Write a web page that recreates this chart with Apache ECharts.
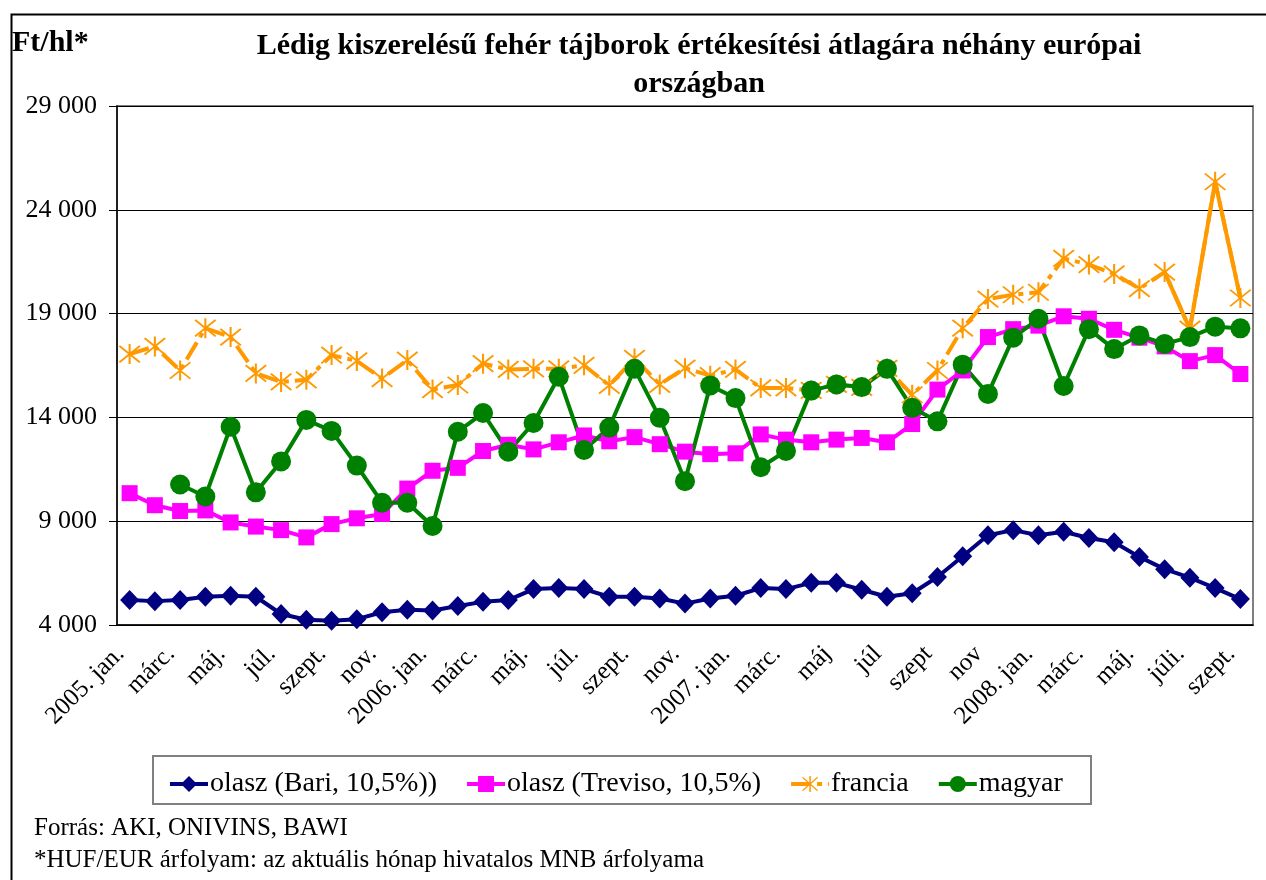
<!DOCTYPE html>
<html>
<head>
<meta charset="utf-8">
<script src="https://cdn.jsdelivr.net/npm/echarts@6/dist/echarts.min.js"></script>
<style>
  html, body { margin: 0; padding: 0; background: #fff; }
  #chart { width: 1266px; height: 880px; }
</style>
</head>
<body>
<div id="chart"></div>
<script>
  // hónapok, 2005. jan. - 2008. szept.
  const months = [
    '2005. jan.', 'febr.', 'márc.', 'ápr.', 'máj.', 'jún.', 'júl.', 'aug.', 'szept.', 'okt.', 'nov.', 'dec.',
    '2006. jan.', 'febr.', 'márc.', 'ápr.', 'máj.', 'jún.', 'júl.', 'aug.', 'szept.', 'okt.', 'nov.', 'dec.',
    '2007. jan.', 'febr.', 'márc.', 'ápr.', 'máj', 'jún', 'júl', 'aug', 'szept', 'okt', 'nov', 'dec',
    '2008. jan.', 'febr.', 'márc.', 'ápr.', 'máj.', 'jún.', 'júli.', 'aug.', 'szept.'
  ]
  const bari = [
    5200, 5150, 5200, 5360, 5410, 5360, 4530, 4250, 4200, 4280, 4615, 4730, 4700, 4915, 5115,
    5200, 5730, 5780, 5730, 5360, 5360, 5280, 5030, 5280, 5410, 5780, 5730, 6030, 6030, 5700,
    5360, 5530, 6310, 7310, 8320, 8570, 8320, 8490, 8190, 7990, 7280, 6690, 6280, 5780, 5250
  ]
  const treviso = [
    10350, 9770, 9490, 9520, 8940, 8740, 8570, 8220, 8860, 9140, 9350, 10570, 11430, 11570, 12380,
    12680, 12460, 12800, 13130, 12850, 13050, 12710, 12350, 12230, 12270, 13180, 12930, 12800, 12930, 13010,
    12800, 13680, 15340, 16260, 17870, 18250, 18420, 18870, 18750, 18220, 17840, 17420, 16710, 17000, 16090
  ]
  const francia = [
    17050, 17420, 16260, 18300, 17870, 16120, 15710, 15810, 17000, 16720, 15870, 16760, 15340, 15560, 16590,
    16310, 16340, 16340, 16510, 15540, 16840, 15590, 16370, 16010, 16310, 15420, 15420, 15300, 15590, 15450,
    16360, 15090, 16260, 18300, 19700, 19910, 20030, 21660, 21360, 20910, 20200, 21000, 18250, 25350, 19750
  ]
  const magyar = [
    null, null, 10770, 10190, 13550, 10390, 11880, 13880, 13350, 11680, 9890, 9890, 8770, 13310, 14210,
    12350, 13730, 15960, 12430, 13510, 16340, 13980, 10930, 15540, 14930, 11600, 12380, 15290, 15590, 15460,
    16340, 14460, 13810, 16540, 15130, 17840, 18750, 15510, 18250, 17290, 17950, 17540, 17870, 18370, 18290
  ]
  const names = ['olasz (Bari, 10,5%))', 'olasz (Treviso, 10,5%)', 'francia', 'magyar']

  const serif = '"Liberation Serif", "Times New Roman", serif'
  const star = 'path://M11,0L13,0L13,24L11,24Z M1.4,2.8L2.8,1.4L22.6,21.2L21.2,22.6Z M21.2,1.4L22.6,2.8L2.8,22.6L1.4,21.2Z'

  // a francia vonal vége folytonos
  const franciaEnd = francia.map((v, i) => (i >= 41 ? v : null))

  const chart = echarts.init(document.getElementById('chart'))
  chart.setOption({
    backgroundColor: '#fff',
    animation: false,
    grid: {
      left: 117, top: 106, width: 1136, height: 519,
      show: true, borderColor: '#808080', borderWidth: 2, backgroundColor: '#fff'
    },
    legend: {
      data: names,
      left: 163, top: 765, z: 5,
      itemWidth: 38, itemHeight: 20, itemGap: 28,
      lineStyle: { width: 4 },
      textStyle: { fontFamily: serif, fontSize: 28, color: '#000', padding: [0, 0, 0, -3] }
    },
    xAxis: {
      type: 'category',
      data: months,
      boundaryGap: true,
      axisLine: { lineStyle: { color: '#000', width: 1.5 } },
      axisTick: { interval: 0, length: 7, lineStyle: { color: '#000' } },
      axisLabel: {
        interval: 1, rotate: 45, margin: 16, padding: [0, 13, 0, 0],
        fontFamily: serif, fontSize: 25, color: '#000'
      }
    },
    yAxis: {
      type: 'value',
      min: 4000, max: 29000, interval: 5000,
      axisLine: { show: true, lineStyle: { color: '#000', width: 1.5 } },
      axisTick: { show: true, length: 8, lineStyle: { color: '#000' } },
      splitLine: { lineStyle: { color: '#000', width: 1 } },
      axisLabel: {
        margin: 20, fontFamily: serif, fontSize: 26, color: '#000',
        formatter: v => String(v).replace(/\B(?=(\d{3})+(?!\d))/g, ' ')
      }
    },
    series: [
      {
        name: names[0], type: 'line', data: bari,
        symbol: 'diamond', symbolSize: [19, 20], showAllSymbol: true,
        lineStyle: { color: '#000080', width: 4 },
        itemStyle: { color: '#000080' }
      },
      {
        name: names[1], type: 'line', data: treviso,
        symbol: 'rect', symbolSize: 16, showAllSymbol: true,
        lineStyle: { color: '#ff00ff', width: 4 },
        itemStyle: { color: '#ff00ff' }
      },
      {
        name: names[2], type: 'line', data: francia,
        symbol: star, symbolSize: [22, 20], showAllSymbol: true,
        lineStyle: { color: '#ff9900', width: 4, type: [20, 6, 5, 6] },
        itemStyle: { color: '#ff9900' }
      },
      {
        name: names[2], type: 'line', data: franciaEnd,
        symbol: 'none',
        lineStyle: { color: '#ff9900', width: 4 },
        itemStyle: { color: '#ff9900' }
      },
      {
        name: names[3], type: 'line', data: magyar,
        symbol: 'circle', symbolSize: 20, showAllSymbol: true,
        lineStyle: { color: '#008000', width: 4 },
        itemStyle: { color: '#008000' }
      }
    ],
    graphic: [
      {
        type: 'rect', left: 9, top: 12, z: -10, silent: true,
        shape: { width: 1300, height: 900 },
        style: { fill: 'none', stroke: '#000', lineWidth: 2 }
      },
      {
        type: 'rect', left: 152, top: 755, z: 0, silent: true,
        shape: { width: 938, height: 48 },
        style: { fill: '#fff', stroke: '#808080', lineWidth: 2 }
      },
      {
        type: 'text', left: 12, top: 28,
        style: { text: 'Ft/hl*', font: 'bold 30px ' + serif, fill: '#000' }
      },
      {
        type: 'text', x: 699, y: 27,
        style: {
          text: 'Lédig kiszerelésű fehér tájborok értékesítési átlagára néhány európai\nországban',
          font: 'bold 30px ' + serif, fill: '#000', align: 'center', lineHeight: 38
        }
      },
      {
        type: 'text', left: 34, top: 816,
        style: { text: 'Forrás: AKI, ONIVINS, BAWI', font: '25px ' + serif, fill: '#000' }
      },
      {
        type: 'text', left: 34, top: 848,
        style: { text: '*HUF/EUR árfolyam: az aktuális hónap hivatalos MNB árfolyama', font: '25px ' + serif, fill: '#000' }
      }
    ]
  })
</script>
</body>
</html>
